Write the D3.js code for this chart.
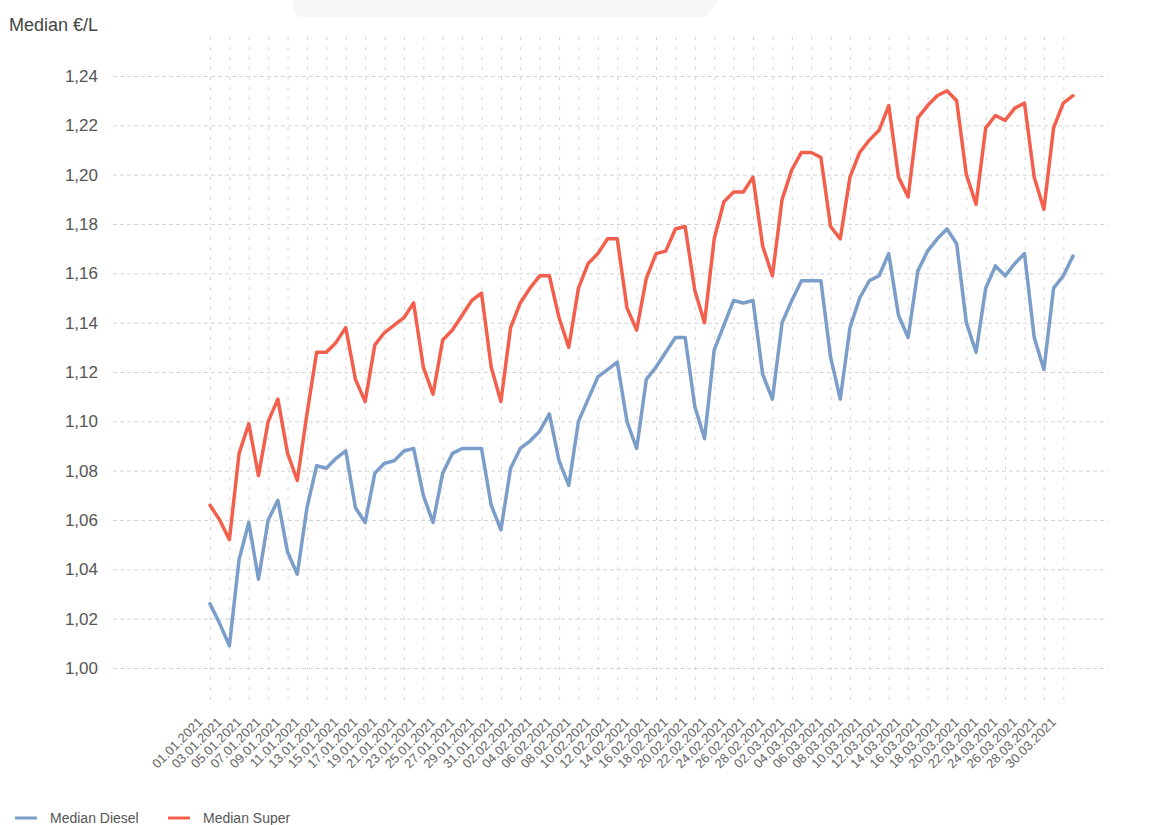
<!DOCTYPE html>
<html>
<head>
<meta charset="utf-8">
<script src="https://cdn.jsdelivr.net/npm/d3@7"></script>
<style>
  body { margin: 0; background: #fff; }
  svg { display: block; font-family: "Liberation Sans", Arial, sans-serif; }
</style>
</head>
<body>
<svg id="chart" width="1158" height="825"></svg>
<script>
// daily dates 01.01.2021 - 31.03.2021
const days = d3.timeDay.range(new Date(2021, 0, 1), new Date(2021, 3, 1));

const diesel = [
  1.026, 1.018, 1.009, 1.044, 1.059, 1.036, 1.060, 1.068, 1.047, 1.038,
  1.065, 1.082, 1.081, 1.085, 1.088, 1.065, 1.059, 1.079, 1.083, 1.084,
  1.088, 1.089, 1.070, 1.059, 1.079, 1.087, 1.089, 1.089, 1.089, 1.066,
  1.056, 1.081, 1.089, 1.092, 1.096, 1.103, 1.084, 1.074, 1.100, 1.109,
  1.118, 1.121, 1.124, 1.100, 1.089, 1.117, 1.122, 1.128, 1.134, 1.134,
  1.106, 1.093, 1.129, 1.139, 1.149, 1.148, 1.149, 1.119, 1.109, 1.140,
  1.149, 1.157, 1.157, 1.157, 1.126, 1.109, 1.138, 1.150, 1.157, 1.159,
  1.168, 1.143, 1.134, 1.161, 1.169, 1.174, 1.178, 1.172, 1.140, 1.128,
  1.154, 1.163, 1.159, 1.164, 1.168, 1.134, 1.121, 1.154, 1.159, 1.167
];

const superPrice = [
  1.066, 1.060, 1.052, 1.087, 1.099, 1.078, 1.100, 1.109, 1.087, 1.076,
  1.103, 1.128, 1.128, 1.132, 1.138, 1.117, 1.108, 1.131, 1.136, 1.139,
  1.142, 1.148, 1.122, 1.111, 1.133, 1.137, 1.143, 1.149, 1.152, 1.122,
  1.108, 1.138, 1.148, 1.154, 1.159, 1.159, 1.142, 1.130, 1.154, 1.164,
  1.168, 1.174, 1.174, 1.146, 1.137, 1.158, 1.168, 1.169, 1.178, 1.179,
  1.153, 1.140, 1.174, 1.189, 1.193, 1.193, 1.199, 1.171, 1.159, 1.190,
  1.202, 1.209, 1.209, 1.207, 1.179, 1.174, 1.199, 1.209, 1.214, 1.218,
  1.228, 1.199, 1.191, 1.223, 1.228, 1.232, 1.234, 1.230, 1.200, 1.188,
  1.219, 1.224, 1.222, 1.227, 1.229, 1.199, 1.186, 1.219, 1.229, 1.232
];

const yTicks = [1.00, 1.02, 1.04, 1.06, 1.08, 1.10, 1.12, 1.14, 1.16, 1.18, 1.20, 1.22, 1.24];

const seriesNames = ["Median Diesel", "Median Super"];
const seriesColors = ["#7b9dc9", "#f2604d"];

const fmtDate = d3.timeFormat("%d.%m.%Y");
const labels = days.map(fmtDate);
const xTicks = labels.filter((d, i) => i % 2 === 0);
const fmtY = d => d3.format(".2f")(d).replace(".", ",");

const svg = d3.select("#chart");

// faint artefact at the top of the screenshot
svg.append("path")
  .attr("d", "M292,0 L718,0 L708,14 Q705,17 700,17 L302,17 Q296,17 294,12 Z")
  .attr("fill", "#f7f7f7");

const gridLeft = 113, gridRight = 1108, gridTop = 35, gridBottom = 700;

const x = d3.scalePoint()
  .domain(labels)
  .range([210, 1073]);

const y = d3.scaleLinear()
  .domain([1.00, 1.24])
  .range([668, 76]);

// y axis + horizontal dashed grid
const yAxis = svg.append("g")
  .attr("transform", `translate(${gridLeft},0)`)
  .call(d3.axisLeft(y).tickValues(yTicks).tickFormat(fmtY)
    .tickSize(-(gridRight - gridLeft)).tickPadding(15));
yAxis.select(".domain").remove();
yAxis.selectAll(".tick line")
  .attr("stroke", "#d4d4d4")
  .attr("stroke-dasharray", "4,3");
yAxis.selectAll(".tick text")
  .attr("fill", "#555")
  .style("font-size", "17px");

// x axis + vertical dotted grid
const xAxis = svg.append("g")
  .attr("transform", `translate(0,${gridBottom})`)
  .call(d3.axisBottom(x).tickValues(xTicks)
    .tickSize(-(gridBottom - gridTop)));
xAxis.select(".domain").remove();
xAxis.selectAll(".tick line")
  .attr("stroke", "#d4d4d4")
  .attr("stroke-dasharray", "3,7");
xAxis.selectAll(".tick text")
  .attr("x", 0).attr("y", 0).attr("dy", 0)
  .attr("transform", "translate(-7,23) rotate(-45)")
  .style("text-anchor", "end")
  .style("font-size", "13px")
  .attr("fill", "#666");

// axis title
svg.append("text")
  .attr("x", 9)
  .attr("y", 31)
  .attr("fill", "#444")
  .style("font-size", "18px")
  .text("Median €/L");

// lines
const line = values => d3.line()
  .x((d, i) => x(labels[i]))
  .y(d => y(d))(values);

[diesel, superPrice].forEach((vals, k) => {
  svg.append("path")
    .attr("d", line(vals))
    .attr("fill", "none")
    .attr("stroke", seriesColors[k])
    .attr("stroke-width", 3.5)
    .attr("stroke-linejoin", "round")
    .attr("stroke-linecap", "round");
});

// legend
const legendX = [15, 168];
const legend = svg.append("g");
seriesNames.forEach((name, k) => {
  legend.append("line")
    .attr("x1", legendX[k]).attr("x2", legendX[k] + 22)
    .attr("y1", 818).attr("y2", 818)
    .attr("stroke", seriesColors[k])
    .attr("stroke-width", 3);
  legend.append("text")
    .attr("x", legendX[k] + 35)
    .attr("y", 823)
    .attr("fill", "#555")
    .style("font-size", "14px")
    .text(name);
});
</script>
</body>
</html>
